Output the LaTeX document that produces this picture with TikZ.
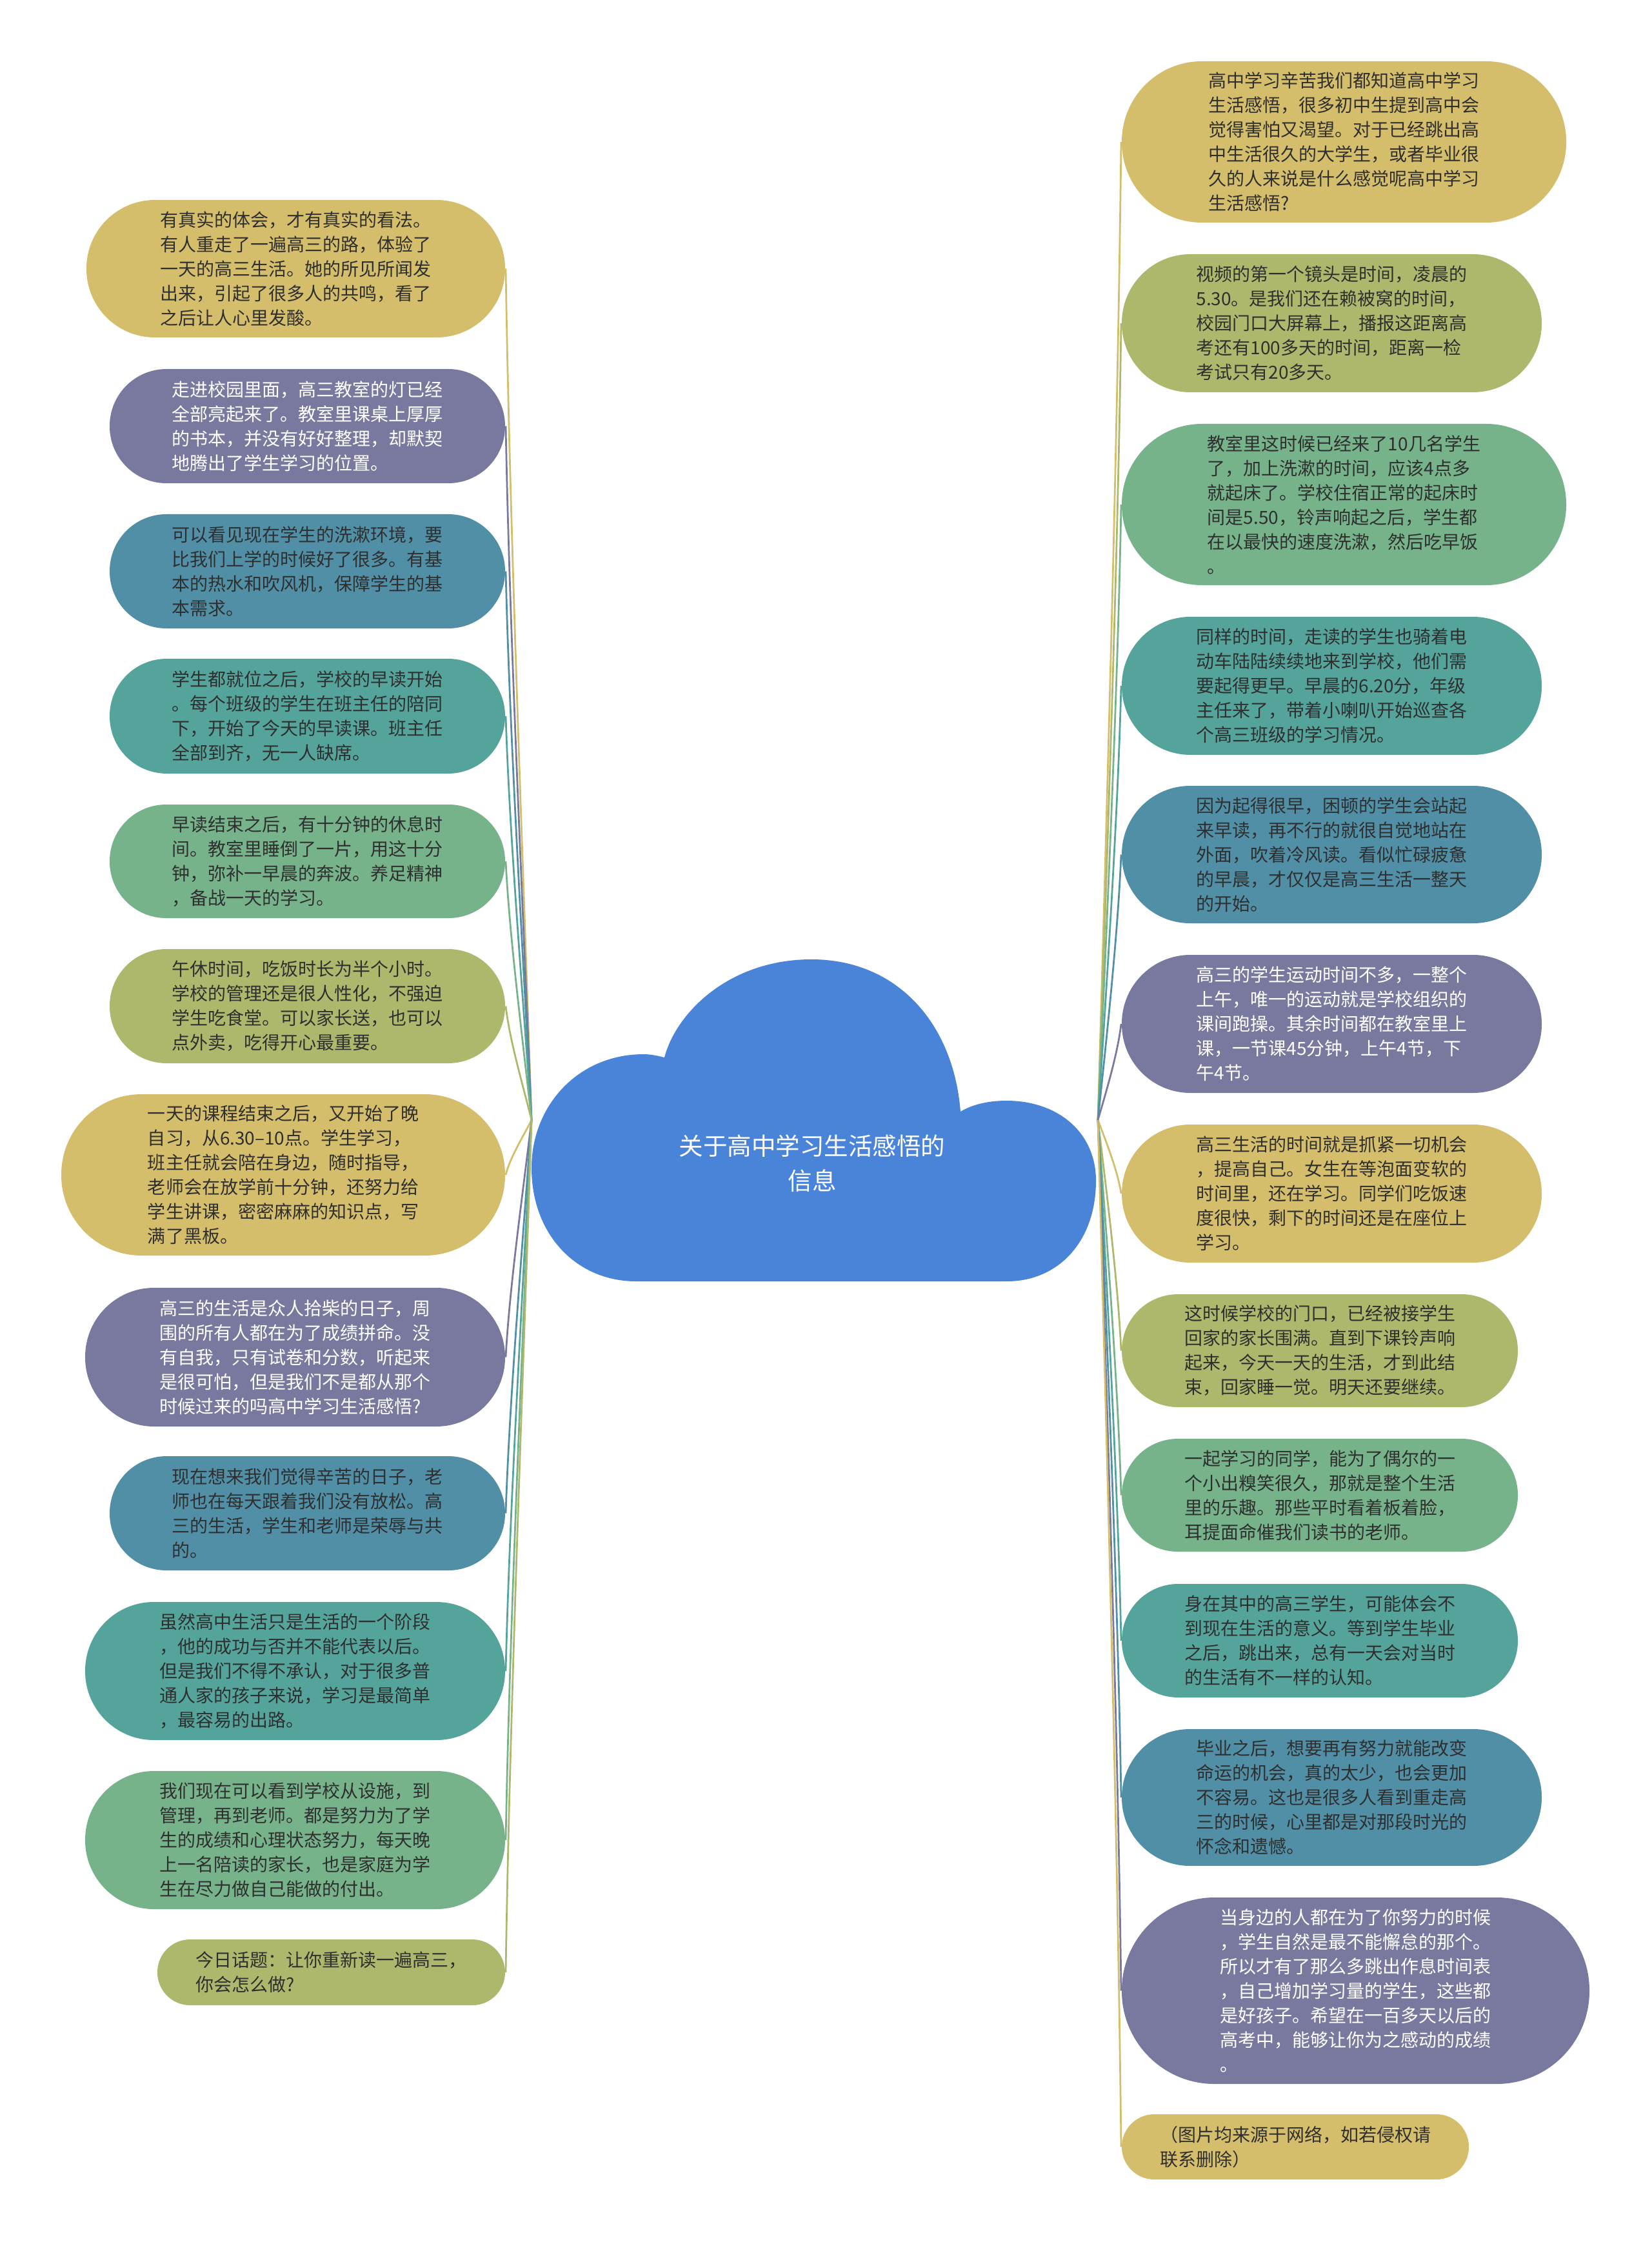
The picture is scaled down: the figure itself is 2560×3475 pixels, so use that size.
\documentclass[tikz,border=0pt]{standalone}
\usepackage{fontspec}
\setmainfont{Noto Sans CJK SC}
\usetikzlibrary{calc}
\definecolor{cyel}{HTML}{D4BE6C}
\definecolor{cpur}{HTML}{7979A0}
\definecolor{cblt}{HTML}{508FA6}
\definecolor{ctea}{HTML}{54A49B}
\definecolor{cgrn}{HTML}{76B38B}
\definecolor{coli}{HTML}{AEB86D}
\definecolor{cblue}{HTML}{4A84D9}
\definecolor{ctext}{HTML}{2F2F2F}
\begin{document}
\begin{tikzpicture}[x=0.2pt,y=-0.2pt,
  box/.style 2 args={draw=none, inner sep=0pt, align=left,
    minimum width=#1*0.2pt, minimum height=#2*0.2pt,
    rounded corners=#2*0.0995pt,
    font=\fontsize{5.6pt}{7.6pt}\selectfont, text=ctext},
  wt/.style={text=white},
  conn/.style={line width=0.55pt}]
\useasboundingbox (0,0) rectangle (2560,3475);

% central cloud
\fill[cblue] (986,1986) -- (1561,1986)
  .. controls (1640,1986) and (1699,1925) .. (1699,1830)
  .. controls (1699,1755) and (1640,1706) .. (1560,1706)
  .. controls (1530,1706) and (1505,1713) .. (1489,1723)
  .. controls (1478,1585) and (1390,1487) .. (1258,1487)
  .. controls (1130,1487) and (1048,1570) .. (1030,1639)
  .. controls (1018,1636) and (1008,1634) .. (998,1634)
  .. controls (895,1634) and (824,1715) .. (824,1810)
  .. controls (824,1915) and (895,1986) .. (986,1986) -- cycle;
\node[text=white, align=center, inner sep=0pt,
  font=\fontsize{7.5pt}{10.8pt}\selectfont] (root) at (1259,1803)
  {关于高中学习生活感悟的\\信息};

\coordinate (SL) at (824,1736);
\coordinate (CL1) at (811,0);
\coordinate (CL2) at (790,0);
\coordinate (SR) at (1702,1736);
\coordinate (CR1) at (1715,0);
\coordinate (CR2) at (1733,0);

% left nodes
\node[box={649}{213}, fill=cyel] (L1) at (458.5,416.5)
{有真实的体会，才有真实的看法。\\有人重走了一遍高三的路，体验了\\一天的高三生活。她的所见所闻发\\出来，引起了很多人的共鸣，看了\\之后让人心里发酸。};
\node[box={613}{177}, fill=cpur, wt] (L2) at (476.5,660.5)
{走进校园里面，高三教室的灯已经\\全部亮起来了。教室里课桌上厚厚\\的书本，并没有好好整理，却默契\\地腾出了学生学习的位置。};
\node[box={613}{177}, fill=cblt] (L3) at (476.5,885.5)
{可以看见现在学生的洗漱环境，要\\比我们上学的时候好了很多。有基\\本的热水和吹风机，保障学生的基\\本需求。};
\node[box={613}{178}, fill=ctea] (L4) at (476.5,1110)
{学生都就位之后，学校的早读开始\\。每个班级的学生在班主任的陪同\\下，开始了今天的早读课。班主任\\全部到齐，无一人缺席。};
\node[box={613}{176}, fill=cgrn] (L5) at (476.5,1335)
{早读结束之后，有十分钟的休息时\\间。教室里睡倒了一片，用这十分\\钟，弥补一早晨的奔波。养足精神\\，备战一天的学习。};
\node[box={613}{177}, fill=coli] (L6) at (476.5,1559.5)
{午休时间，吃饭时长为半个小时。\\学校的管理还是很人性化，不强迫\\学生吃食堂。可以家长送，也可以\\点外卖，吃得开心最重要。};
\node[box={688}{250}, fill=cyel] (L7) at (439,1821)
{一天的课程结束之后，又开始了晚\\自习，从6.30–10点。学生学习，\\班主任就会陪在身边，随时指导，\\老师会在放学前十分钟，还努力给\\学生讲课，密密麻麻的知识点，写\\满了黑板。};
\node[box={651}{215}, fill=cpur, wt] (L8) at (457.5,2103.5)
{高三的生活是众人拾柴的日子，周\\围的所有人都在为了成绩拼命。没\\有自我，只有试卷和分数，听起来\\是很可怕，但是我们不是都从那个\\时候过来的吗高中学习生活感悟?};
\node[box={613}{177}, fill=cblt] (L9) at (476.5,2345.5)
{现在想来我们觉得辛苦的日子，老\\师也在每天跟着我们没有放松。高\\三的生活，学生和老师是荣辱与共\\的。};
\node[box={651}{214}, fill=ctea] (L10) at (457.5,2590)
{虽然高中生活只是生活的一个阶段\\，他的成功与否并不能代表以后。\\但是我们不得不承认，对于很多普\\通人家的孩子来说，学习是最简单\\，最容易的出路。};
\node[box={651}{214}, fill=cgrn] (L11) at (457.5,2852)
{我们现在可以看到学校从设施，到\\管理，再到老师。都是努力为了学\\生的成绩和心理状态努力，每天晚\\上一名陪读的家长，也是家庭为学\\生在尽力做自己能做的付出。};
\node[box={539}{102}, fill=coli] (L12) at (513.5,3057)
{今日话题：让你重新读一遍高三，\\你会怎么做?};

% right nodes
\node[box={689}{250}, fill=cyel] (R1) at (2083.5,220)
{高中学习辛苦我们都知道高中学习\\生活感悟，很多初中生提到高中会\\觉得害怕又渴望。对于已经跳出高\\中生活很久的大学生，或者毕业很\\久的人来说是什么感觉呢高中学习\\生活感悟?};
\node[box={651}{214}, fill=coli] (R2) at (2064.5,501)
{视频的第一个镜头是时间，凌晨的\\5.30。是我们还在赖被窝的时间，\\校园门口大屏幕上，播报这距离高\\考还有100多天的时间，距离一检\\考试只有20多天。};
\node[box={689}{250}, fill=cgrn] (R3) at (2083.5,782)
{教室里这时候已经来了10几名学生\\了，加上洗漱的时间，应该4点多\\就起床了。学校住宿正常的起床时\\间是5.50，铃声响起之后，学生都\\在以最快的速度洗漱，然后吃早饭\\。};
\node[box={651}{214}, fill=ctea] (R4) at (2064.5,1063)
{同样的时间，走读的学生也骑着电\\动车陆陆续续地来到学校，他们需\\要起得更早。早晨的6.20分，年级\\主任来了，带着小喇叭开始巡查各\\个高三班级的学习情况。};
\node[box={651}{213}, fill=cblt] (R5) at (2064.5,1324.5)
{因为起得很早，困顿的学生会站起\\来早读，再不行的就很自觉地站在\\外面，吹着冷风读。看似忙碌疲惫\\的早晨，才仅仅是高三生活一整天\\的开始。};
\node[box={651}{214}, fill=cpur, wt] (R6) at (2064.5,1587)
{高三的学生运动时间不多，一整个\\上午，唯一的运动就是学校组织的\\课间跑操。其余时间都在教室里上\\课，一节课45分钟，上午4节，下\\午4节。};
\node[box={651}{214}, fill=cyel] (R7) at (2064.5,1850)
{高三生活的时间就是抓紧一切机会\\，提高自己。女生在等泡面变软的\\时间里，还在学习。同学们吃饭速\\度很快，剩下的时间还是在座位上\\学习。};
\node[box={614}{175}, fill=coli] (R8) at (2046,2093.5)
{这时候学校的门口，已经被接学生\\回家的家长围满。直到下课铃声响\\起来，今天一天的生活，才到此结\\束，回家睡一觉。明天还要继续。};
\node[box={614}{175}, fill=cgrn] (R9) at (2046,2317.5)
{一起学习的同学，能为了偶尔的一\\个小出糗笑很久，那就是整个生活\\里的乐趣。那些平时看着板着脸，\\耳提面命催我们读书的老师。};
\node[box={614}{176}, fill=ctea] (R10) at (2046,2543)
{身在其中的高三学生，可能体会不\\到现在生活的意义。等到学生毕业\\之后，跳出来，总有一天会对当时\\的生活有不一样的认知。};
\node[box={651}{212}, fill=cblt] (R11) at (2064.5,2786)
{毕业之后，想要再有努力就能改变\\命运的机会，真的太少，也会更加\\不容易。这也是很多人看到重走高\\三的时候，心里都是对那段时光的\\怀念和遗憾。};
\node[box={725}{289}, fill=cpur, wt] (R12) at (2101.5,3085.5)
{当身边的人都在为了你努力的时候\\，学生自然是最不能懈怠的那个。\\所以才有了那么多跳出作息时间表\\，自己增加学习量的学生，这些都\\是好孩子。希望在一百多天以后的\\高考中，能够让你为之感动的成绩\\。};
\node[box={538}{101}, fill=cyel] (R13) at (2008,3327.5)
{（图片均来源于网络，如若侵权请\\联系删除）};

% connectors
\foreach \n/\c in {L1/cyel,L2/cpur,L3/cblt,L4/ctea,L5/cgrn,L6/coli,
                   L7/cyel,L8/cpur,L9/cblt,L10/ctea,L11/cgrn,L12/coli}{
  \path ($(SL)!0.3!(\n.east)$) coordinate (p1)
        ($(SL)!0.7!(\n.east)$) coordinate (p2);
  \draw[conn,\c] (SL) .. controls (CL1 |- p1) and (CL2 |- p2) .. (\n.east);
}
\foreach \n/\c in {R1/cyel,R2/coli,R3/cgrn,R4/ctea,R5/cblt,R6/cpur,R7/cyel,
                   R8/coli,R9/cgrn,R10/ctea,R11/cblt,R12/cpur,R13/cyel}{
  \path ($(SR)!0.3!(\n.west)$) coordinate (p1)
        ($(SR)!0.7!(\n.west)$) coordinate (p2);
  \draw[conn,\c] (SR) .. controls (CR1 |- p1) and (CR2 |- p2) .. (\n.west);
}
\end{tikzpicture}
\end{document}
